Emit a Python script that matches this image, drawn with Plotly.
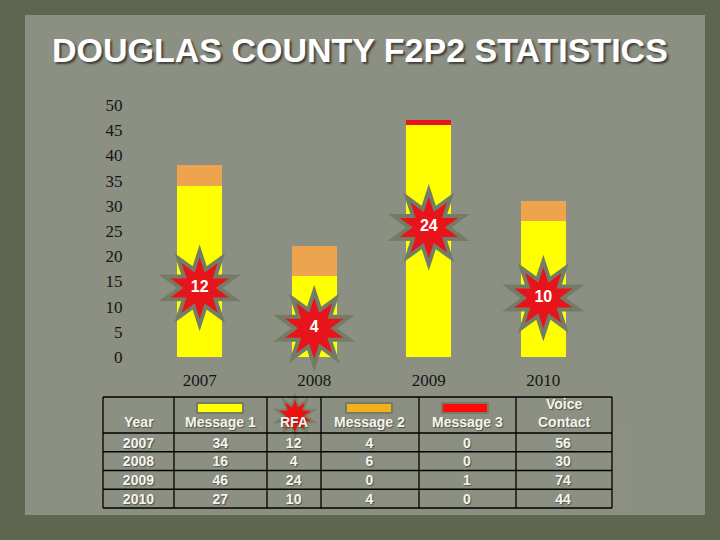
import plotly.graph_objects as go

years = ["2007", "2008", "2009", "2010"]
message1 = [34, 16, 46, 27]
rfa = [12, 4, 24, 10]
message2 = [4, 6, 0, 4]
message3 = [0, 0, 1, 0]
voice_contact = [56, 30, 74, 44]
y_ticks = [0, 5, 10, 15, 20, 25, 30, 35, 40, 45, 50]
header_labels = ["Year", "Message 1", "RFA", "Message 2", "Message 3", "Voice<br>Contact"]
col_widths = [71, 93, 54, 98, 97, 96]

W, H = 720, 540
def px(x):
    return x / W
def py(y):
    return 1 - y / H

YELLOW = "#ffff00"
ORANGE = "#eea34f"
RED = "#e8141b"
HALO = "#737d66"
PANEL = "#8c9083"
OUTER = "#5e664f"
TXT = "#f4f4ee"

fig = go.Figure()

fig.add_trace(go.Bar(x=years, y=message1, name="Message 1", marker=dict(color=YELLOW, line=dict(width=0))))
fig.add_trace(go.Bar(x=years, y=message2, name="Message 2", marker=dict(color=ORANGE, line=dict(width=0))))
fig.add_trace(go.Bar(x=years, y=message3, name="Message 3", marker=dict(color=RED, line=dict(width=0))))

# RFA starbursts (placed just above the RFA value)
rfa_pos = [v + 1.7 for v in rfa]
def burst(xs, ys, xa, ya, big, small, color):
    for sym, size, ang in (("circle", small, 0), ("star", big, 0), ("star", big, 36)):
        fig.add_trace(go.Scatter(x=xs, y=ys, xaxis=xa, yaxis=ya, mode="markers", cliponaxis=False,
                                 hoverinfo="skip",
                                 marker=dict(symbol=sym, size=size, angle=ang, color=color, line=dict(width=0))))

burst(years, rfa_pos, "x", "y", 62, 40, HALO)
burst(years, rfa_pos, "x", "y", 44, 31, RED)
fig.add_trace(go.Scatter(x=years, y=rfa_pos, mode="text", text=[str(v) for v in rfa], cliponaxis=False,
                         textposition="middle center", hoverinfo="skip",
                         textfont=dict(family="Arial", size=16, color="white", weight="bold")))

# small burst behind the RFA header
burst([0.5], [0.5], "x2", "y2", 34, 22, "rgba(115,125,102,0.8)")
burst([0.5], [0.5], "x2", "y2", 24, 16, "#f01010")

cell_font = dict(family="Arial", size=14, color=TXT, weight="bold",
                 shadow="1px 1px 1px rgba(40,40,40,0.6)")
tbl_x0, tbl_x1 = 103, 612
tbl_top, hdr_h, row_h = 397, 36, 18.75
text_lift = 4  # table text sits a little higher than its grid
fig.add_trace(go.Table(
    domain=dict(x=[px(tbl_x0), px(tbl_x1)],
                y=[py(tbl_top + hdr_h + 4 * row_h + 2 - text_lift), py(tbl_top - text_lift)]),
    columnwidth=col_widths,
    header=dict(values=[""] * 6,
                height=hdr_h, align="center", fill_color="rgba(0,0,0,0)", line=dict(color="rgba(0,0,0,0)", width=0),
                font=cell_font),
    cells=dict(values=[years, message1, rfa, message2, message3, voice_contact],
               height=row_h, align="center", fill_color="rgba(0,0,0,0)", line=dict(color="rgba(0,0,0,0)", width=0),
               font=cell_font),
))

shapes = [
    dict(type="rect", xref="paper", yref="paper", x0=px(25), x1=px(705), y0=py(515), y1=py(15),
         fillcolor=PANEL, line=dict(width=0), layer="below"),
    dict(type="rect", xref="paper", yref="paper", x0=px(197), x1=px(243), y0=py(413), y1=py(403),
         fillcolor=YELLOW, line=dict(color=HALO, width=2), layer="above"),
    dict(type="rect", xref="paper", yref="paper", x0=px(346), x1=px(392), y0=py(413), y1=py(403),
         fillcolor="#f5b020", line=dict(color=HALO, width=2), layer="above"),
    dict(type="rect", xref="paper", yref="paper", x0=px(442), x1=px(488), y0=py(413), y1=py(403),
         fillcolor="#ff0a0a", line=dict(color=HALO, width=2), layer="above"),
]

# table grid
row_lines = [tbl_top, tbl_top + hdr_h] + [tbl_top + hdr_h + (i + 1) * row_h for i in range(4)]
tbl_bottom = row_lines[-1]
for yl in row_lines:
    shapes.append(dict(type="line", xref="paper", yref="paper", x0=px(tbl_x0), x1=px(tbl_x1),
                       y0=py(yl), y1=py(yl), line=dict(color="black", width=1.3), layer="above"))

annotations = [
    dict(text="DOUGLAS COUNTY F2P2 STATISTICS", xref="paper", yref="paper", x=0.5, y=py(50),
         showarrow=False, xanchor="center", yanchor="middle",
         font=dict(family="Arial", size=34, color="white", weight="bold",
                   shadow="2px 2px 2px rgba(30,30,30,0.7)")),
]
# header labels centred in their columns, and column lines
edge = tbl_x0
total = sum(col_widths)
col_edges = [tbl_x0]
for lab, w in zip(header_labels, col_widths):
    cw = w * (tbl_x1 - tbl_x0) / total
    cx = edge + cw / 2
    edge += cw
    col_edges.append(edge)
    annotations.append(dict(text=lab, xref="paper", yref="paper", x=px(cx), y=py(432),
                            xanchor="center", yanchor="bottom", showarrow=False,
                            font=dict(family="Arial", size=14, color=TXT, weight="bold",
                                      shadow="1px 1px 1px rgba(40,40,40,0.6)")))
for xl in col_edges:
    shapes.append(dict(type="line", xref="paper", yref="paper", x0=px(xl), x1=px(xl),
                       y0=py(tbl_bottom), y1=py(tbl_top), line=dict(color="black", width=1.3), layer="above"))

fig.update_layout(
    width=W, height=H,
    margin=dict(l=0, r=0, t=0, b=0, pad=0, autoexpand=False),
    paper_bgcolor=OUTER, plot_bgcolor="rgba(0,0,0,0)",
    barmode="stack", bargap=0.607,
    showlegend=False,
    shapes=shapes, annotations=annotations,
    xaxis=dict(domain=[px(137.5), px(605.5)], showgrid=False, zeroline=False, showline=False,
               ticks="", ticklabelstandoff=11, automargin=False,
               tickfont=dict(family="Liberation Serif", size=17, color="#151515")),
    yaxis=dict(domain=[py(357), py(105)], range=[0, 50], tickvals=y_ticks, showgrid=False,
               zeroline=False, showline=False, ticks="", ticklabelstandoff=14, automargin=False,
               tickfont=dict(family="Liberation Serif", size=17, color="#151515")),
    xaxis2=dict(domain=[px(272), px(318)], range=[0, 1], visible=False, anchor="y2", automargin=False),
    yaxis2=dict(domain=[py(432), py(400)], range=[0, 1], visible=False, anchor="x2", automargin=False),
)

fig.write_html("out.html", config={"displayModeBar": False},
               post_script="document.body.style.margin='0';")
